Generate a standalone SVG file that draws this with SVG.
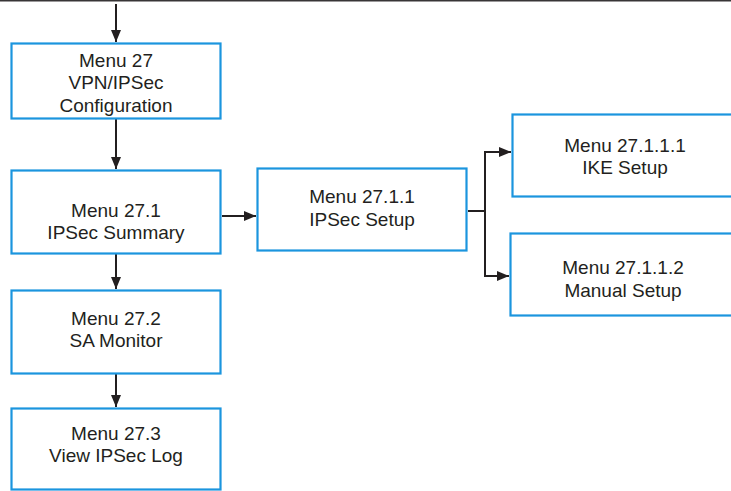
<svg xmlns="http://www.w3.org/2000/svg" width="731" height="491" viewBox="0 0 731 491">
  <style>
    .box { fill: #ffffff; stroke: #1b95de; stroke-width: 2.2; }
    .lbl { font-family: "Liberation Sans", Arial, sans-serif; font-size: 19px; fill: #231f20; text-anchor: middle; }
    .wire { fill: none; stroke: #231f20; stroke-width: 2; }
  </style>
  <defs>
    <marker id="arrow" viewBox="0 0 12 10" refX="12" refY="5" markerWidth="12" markerHeight="10" markerUnits="userSpaceOnUse" orient="auto">
      <path d="M0,0 L12,5 L0,10 Z" fill="#231f20"/>
    </marker>
  </defs>

  <rect width="731" height="491" fill="#ffffff"/>
  <!-- top rule -->
  <line x1="0" y1="0.8" x2="731" y2="0.8" stroke="#383536" stroke-width="1.6"/>

  <g id="connectors">
    <line class="wire" x1="116" y1="4" x2="116" y2="42" marker-end="url(#arrow)"/>
    <line class="wire" x1="116" y1="119" x2="116" y2="169" marker-end="url(#arrow)"/>
    <line class="wire" x1="116" y1="254" x2="116" y2="289" marker-end="url(#arrow)"/>
    <line class="wire" x1="116" y1="374" x2="116" y2="407" marker-end="url(#arrow)"/>
    <line class="wire" x1="222" y1="216" x2="256" y2="216" marker-end="url(#arrow)"/>
    <line class="wire" x1="468" y1="211" x2="485" y2="211"/>
    <path class="wire" d="M511,152 H485 V276 H509" marker-end="url(#arrow)"/>
    <path class="wire" d="M485,152 H511" marker-end="url(#arrow)"/>
  </g>

  <g id="menu27">
    <rect class="box" x="11.5" y="43.5" width="209" height="75"/>
    <text class="lbl" x="116" y="66.5">Menu 27</text>
    <text class="lbl" x="116" y="89">VPN/IPSec</text>
    <text class="lbl" x="116" y="111.5">Configuration</text>
  </g>

  <g id="menu27-1">
    <rect class="box" x="11.5" y="170.5" width="209" height="83"/>
    <text class="lbl" x="116" y="216.5">Menu 27.1</text>
    <text class="lbl" x="116" y="238.5">IPSec Summary</text>
  </g>

  <g id="menu27-1-1">
    <rect class="box" x="257.5" y="168.5" width="209" height="82"/>
    <text class="lbl" x="362" y="202.5">Menu 27.1.1</text>
    <text class="lbl" x="362" y="225.5">IPSec Setup</text>
  </g>

  <g id="menu27-1-1-1">
    <rect class="box" x="512.5" y="114.5" width="225" height="82"/>
    <text class="lbl" x="625" y="151.5">Menu 27.1.1.1</text>
    <text class="lbl" x="625" y="173.5">IKE Setup</text>
  </g>

  <g id="menu27-1-1-2">
    <rect class="box" x="510.5" y="233.5" width="227" height="82"/>
    <text class="lbl" x="623" y="273.5">Menu 27.1.1.2</text>
    <text class="lbl" x="623" y="296.5">Manual Setup</text>
  </g>

  <g id="menu27-2">
    <rect class="box" x="11.5" y="290.5" width="209" height="83"/>
    <text class="lbl" x="116" y="324.5">Menu 27.2</text>
    <text class="lbl" x="116" y="346.5">SA Monitor</text>
  </g>

  <g id="menu27-3">
    <rect class="box" x="11.5" y="408.5" width="209" height="81"/>
    <text class="lbl" x="116" y="439.5">Menu 27.3</text>
    <text class="lbl" x="116" y="461.5">View IPSec Log</text>
  </g>
</svg>
